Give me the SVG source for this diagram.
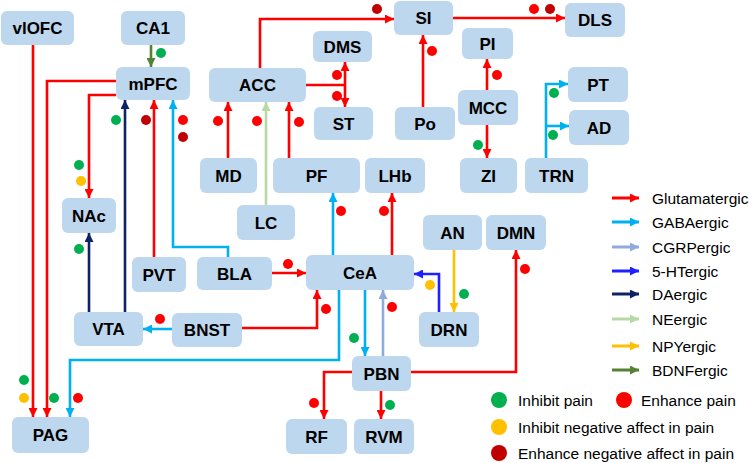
<svg xmlns="http://www.w3.org/2000/svg" width="749" height="463" viewBox="0 0 749 463">
<defs>
<marker id="aR" viewBox="0 0 10 10" refX="10" refY="5" markerWidth="10" markerHeight="9" markerUnits="userSpaceOnUse" orient="auto"><path d="M0,0L10,5L0,10z" fill="#ff0000"/></marker>
<marker id="aG" viewBox="0 0 10 10" refX="10" refY="5" markerWidth="10" markerHeight="9" markerUnits="userSpaceOnUse" orient="auto"><path d="M0,0L10,5L0,10z" fill="#00b0f0"/></marker>
<marker id="aC" viewBox="0 0 10 10" refX="10" refY="5" markerWidth="10" markerHeight="9" markerUnits="userSpaceOnUse" orient="auto"><path d="M0,0L10,5L0,10z" fill="#8faadc"/></marker>
<marker id="aH" viewBox="0 0 10 10" refX="10" refY="5" markerWidth="10" markerHeight="9" markerUnits="userSpaceOnUse" orient="auto"><path d="M0,0L10,5L0,10z" fill="#1f1fff"/></marker>
<marker id="aD" viewBox="0 0 10 10" refX="10" refY="5" markerWidth="10" markerHeight="9" markerUnits="userSpaceOnUse" orient="auto"><path d="M0,0L10,5L0,10z" fill="#0d2366"/></marker>
<marker id="aN" viewBox="0 0 10 10" refX="10" refY="5" markerWidth="10" markerHeight="9" markerUnits="userSpaceOnUse" orient="auto"><path d="M0,0L10,5L0,10z" fill="#b7d9a3"/></marker>
<marker id="aY" viewBox="0 0 10 10" refX="10" refY="5" markerWidth="10" markerHeight="9" markerUnits="userSpaceOnUse" orient="auto"><path d="M0,0L10,5L0,10z" fill="#ffc000"/></marker>
<marker id="aB" viewBox="0 0 10 10" refX="10" refY="5" markerWidth="10" markerHeight="9" markerUnits="userSpaceOnUse" orient="auto"><path d="M0,0L10,5L0,10z" fill="#548235"/></marker>
</defs>
<style>
.n rect{fill:#bdd7ee;}
.n text{font-family:"Liberation Sans",Arial,sans-serif;font-weight:bold;font-size:17px;fill:#000;text-anchor:middle;}
.c path{fill:none;stroke-width:2.6;}
.r{stroke:#ff0000;}
.g{stroke:#00b0f0;}
.cg{stroke:#8faadc;}
.h{stroke:#1f1fff;}
.d{stroke:#0d2366;}
.ne{stroke:#b7d9a3;}
.y{stroke:#ffc000;}
.b{stroke:#548235;}
.dg{fill:#00b050;}
.dr{fill:#ff0000;}
.dy{fill:#ffc000;}
.dk{fill:#c00000;}
.lg{font-family:"Liberation Sans",Arial,sans-serif;font-size:15.5px;fill:#000;}
</style>
<rect width="749" height="463" fill="#ffffff"/>
<g id="connectors" class="c">
<path class="r" d="M33,45V417" marker-end="url(#aR)"/>
<path class="r" d="M116,81H47V417" marker-end="url(#aR)"/>
<path class="r" d="M116,95H89V198" marker-end="url(#aR)"/>
<path class="b" d="M151,45V67" marker-end="url(#aB)"/>
<path class="d" d="M125,312V100" marker-end="url(#aD)"/>
<path class="r" d="M154,257V100" marker-end="url(#aR)"/>
<path class="g" d="M228,257V247H173V100" marker-end="url(#aG)"/>
<path class="d" d="M89,312V233" marker-end="url(#aD)"/>
<path class="r" d="M228,158V102" marker-end="url(#aR)"/>
<path class="ne" d="M266,205V102" marker-end="url(#aN)"/>
<path class="r" d="M289,158V102" marker-end="url(#aR)"/>
<path class="r" d="M260,68V19H394" marker-end="url(#aR)"/>
<path class="r" d="M306,85H345"/>
<path class="r" d="M345,85V62" marker-end="url(#aR)"/>
<path class="r" d="M345,85V107" marker-end="url(#aR)"/>
<path class="r" d="M423,107V35" marker-end="url(#aR)"/>
<path class="r" d="M453,18H565" marker-end="url(#aR)"/>
<path class="r" d="M487,90V59" marker-end="url(#aR)"/>
<path class="r" d="M487,125V158" marker-end="url(#aR)"/>
<path class="g" d="M546,158V84H568" marker-end="url(#aG)"/>
<path class="g" d="M546,126H569" marker-end="url(#aG)"/>
<path class="g" d="M333,255V193" marker-end="url(#aG)"/>
<path class="r" d="M392,255V193" marker-end="url(#aR)"/>
<path class="r" d="M272,273H306" marker-end="url(#aR)"/>
<path class="r" d="M242,328H317V290" marker-end="url(#aR)"/>
<path class="g" d="M172,329H143" marker-end="url(#aG)"/>
<path class="g" d="M339,290V360H70V417" marker-end="url(#aG)"/>
<path class="g" d="M365,290V356" marker-end="url(#aG)"/>
<path class="cg" d="M383,356V290" marker-end="url(#aC)"/>
<path class="h" d="M439,312V274H414" marker-end="url(#aH)"/>
<path class="y" d="M454,250V312" marker-end="url(#aY)"/>
<path class="r" d="M411,372H516V250" marker-end="url(#aR)"/>
<path class="r" d="M352,372H324V419" marker-end="url(#aR)"/>
<path class="r" d="M381,391V419" marker-end="url(#aR)"/>
</g>
<g id="dots">
<circle class="dg" cx="161" cy="53" r="5"/>
<circle class="dg" cx="116" cy="120" r="5"/>
<circle class="dk" cx="146" cy="120" r="5"/>
<circle class="dr" cx="183" cy="120" r="5"/>
<circle class="dk" cx="183" cy="137" r="5"/>
<circle class="dg" cx="79" cy="165" r="5"/>
<circle class="dy" cx="81" cy="181" r="5"/>
<circle class="dg" cx="79" cy="249" r="5"/>
<circle class="dr" cx="218" cy="121" r="5"/>
<circle class="dr" cx="257" cy="121" r="5"/>
<circle class="dr" cx="299" cy="122" r="5"/>
<circle class="dk" cx="377" cy="9" r="5"/>
<circle class="dr" cx="337" cy="75" r="5"/>
<circle class="dr" cx="337" cy="96" r="5"/>
<circle class="dr" cx="432" cy="51" r="5"/>
<circle class="dr" cx="534" cy="9" r="5"/>
<circle class="dk" cx="550" cy="9" r="5"/>
<circle class="dr" cx="497" cy="75" r="5"/>
<circle class="dg" cx="478" cy="145" r="5"/>
<circle class="dg" cx="554" cy="93" r="5"/>
<circle class="dg" cx="553" cy="135" r="5"/>
<circle class="dr" cx="341" cy="211" r="5"/>
<circle class="dr" cx="384" cy="211" r="5"/>
<circle class="dr" cx="288" cy="264" r="5"/>
<circle class="dr" cx="326" cy="309" r="5"/>
<circle class="dr" cx="160" cy="319" r="5"/>
<circle class="dg" cx="354" cy="338" r="5"/>
<circle class="dr" cx="392" cy="307" r="5"/>
<circle class="dy" cx="430" cy="285" r="5"/>
<circle class="dg" cx="464" cy="294" r="5"/>
<circle class="dr" cx="525" cy="269" r="5"/>
<circle class="dr" cx="314" cy="403" r="5"/>
<circle class="dg" cx="390" cy="405" r="5"/>
<circle class="dg" cx="24" cy="380" r="5"/>
<circle class="dy" cx="24" cy="398" r="5"/>
<circle class="dg" cx="54" cy="398" r="5"/>
<circle class="dr" cx="78" cy="398" r="5"/>
</g>
<g id="vlOFC" class="n"><rect x="1" y="11" width="73" height="34" rx="6"/><text x="37.5" y="34">vlOFC</text></g>
<g id="CA1" class="n"><rect x="121" y="11" width="64" height="34" rx="6"/><text x="153" y="34">CA1</text></g>
<g id="mPFC" class="n"><rect x="116" y="67" width="74" height="33" rx="6"/><text x="153" y="89.5">mPFC</text></g>
<g id="ACC" class="n"><rect x="209" y="68" width="97" height="34" rx="6"/><text x="257.5" y="91">ACC</text></g>
<g id="DMS" class="n"><rect x="313" y="31" width="59" height="31" rx="6"/><text x="342.5" y="52.5">DMS</text></g>
<g id="ST" class="n"><rect x="314" y="107" width="59" height="33" rx="6"/><text x="343.5" y="129.5">ST</text></g>
<g id="SI" class="n"><rect x="394" y="1" width="59" height="34" rx="6"/><text x="423.5" y="24">SI</text></g>
<g id="Po" class="n"><rect x="395" y="107" width="60" height="33" rx="6"/><text x="425" y="129.5">Po</text></g>
<g id="DLS" class="n"><rect x="565" y="3" width="60" height="34" rx="6"/><text x="595" y="26">DLS</text></g>
<g id="PI" class="n"><rect x="462" y="28" width="51" height="31" rx="6"/><text x="487.5" y="49.5">PI</text></g>
<g id="MCC" class="n"><rect x="458" y="90" width="60" height="35" rx="6"/><text x="488" y="113.5">MCC</text></g>
<g id="PT" class="n"><rect x="568" y="67" width="60" height="35" rx="6"/><text x="598" y="90.5">PT</text></g>
<g id="AD" class="n"><rect x="569" y="110" width="60" height="35" rx="6"/><text x="599" y="133.5">AD</text></g>
<g id="ZI" class="n"><rect x="460" y="158" width="57" height="35" rx="6"/><text x="488.5" y="181.5">ZI</text></g>
<g id="TRN" class="n"><rect x="525" y="158" width="63" height="35" rx="6"/><text x="556.5" y="181.5">TRN</text></g>
<g id="AN" class="n"><rect x="423" y="215" width="59" height="35" rx="6"/><text x="452.5" y="238.5">AN</text></g>
<g id="DMN" class="n"><rect x="486" y="215" width="60" height="35" rx="6"/><text x="516" y="238.5">DMN</text></g>
<g id="MD" class="n"><rect x="200" y="158" width="57" height="35" rx="6"/><text x="228.5" y="181.5">MD</text></g>
<g id="PF" class="n"><rect x="273" y="158" width="87" height="35" rx="6"/><text x="316.5" y="181.5">PF</text></g>
<g id="LHb" class="n"><rect x="365" y="158" width="60" height="35" rx="6"/><text x="395" y="181.5">LHb</text></g>
<g id="LC" class="n"><rect x="237" y="205" width="58" height="35" rx="6"/><text x="266" y="228.5">LC</text></g>
<g id="NAc" class="n"><rect x="62" y="198" width="54" height="35" rx="6"/><text x="89" y="221.5">NAc</text></g>
<g id="PVT" class="n"><rect x="132" y="257" width="54" height="35" rx="6"/><text x="159" y="280.5">PVT</text></g>
<g id="BLA" class="n"><rect x="197" y="257" width="75" height="33" rx="6"/><text x="234.5" y="279.5">BLA</text></g>
<g id="CeA" class="n"><rect x="306" y="255" width="108" height="35" rx="6"/><text x="360" y="278.5">CeA</text></g>
<g id="VTA" class="n"><rect x="74" y="312" width="69" height="34" rx="6"/><text x="108.5" y="335">VTA</text></g>
<g id="BNST" class="n"><rect x="172" y="313" width="70" height="34" rx="6"/><text x="207" y="336">BNST</text></g>
<g id="DRN" class="n"><rect x="419" y="312" width="60" height="35" rx="6"/><text x="449" y="335.5">DRN</text></g>
<g id="PBN" class="n"><rect x="352" y="356" width="59" height="35" rx="6"/><text x="381.5" y="379.5">PBN</text></g>
<g id="RF" class="n"><rect x="286" y="419" width="61" height="35" rx="6"/><text x="316.5" y="442.5">RF</text></g>
<g id="RVM" class="n"><rect x="354" y="419" width="60" height="35" rx="6"/><text x="384" y="442.5">RVM</text></g>
<g id="PAG" class="n"><rect x="12" y="417" width="77" height="36" rx="6"/><text x="50.5" y="441">PAG</text></g>
<g id="legend">
<path class="r" d="M612,198H639" stroke-width="3" fill="none" marker-end="url(#aR)"/>
<path class="g" d="M612,222H639" stroke-width="3" fill="none" marker-end="url(#aG)"/>
<path class="cg" d="M612,247H639" stroke-width="3" fill="none" marker-end="url(#aC)"/>
<path class="h" d="M612,271H639" stroke-width="3" fill="none" marker-end="url(#aH)"/>
<path class="d" d="M612,294H639" stroke-width="3" fill="none" marker-end="url(#aD)"/>
<path class="ne" d="M612,319H639" stroke-width="3" fill="none" marker-end="url(#aN)"/>
<path class="y" d="M612,346H639" stroke-width="3" fill="none" marker-end="url(#aY)"/>
<path class="b" d="M612,370H639" stroke-width="3" fill="none" marker-end="url(#aB)"/>
<text class="lg" x="652" y="203.5">Glutamatergic</text>
<text class="lg" x="652" y="227.5">GABAergic</text>
<text class="lg" x="652" y="252.5">CGRPergic</text>
<text class="lg" x="652" y="276.5">5-HTergic</text>
<text class="lg" x="652" y="299.5">DAergic</text>
<text class="lg" x="652" y="324.5">NEergic</text>
<text class="lg" x="652" y="351.5">NPYergic</text>
<text class="lg" x="652" y="375.5">BDNFergic</text>
<circle class="dg" cx="499" cy="400" r="8"/>
<text class="lg" x="518" y="405.5">Inhibit pain</text>
<circle class="dr" cx="624" cy="400" r="8"/>
<text class="lg" x="641" y="405.5">Enhance pain</text>
<circle class="dy" cx="499" cy="427" r="8"/>
<text class="lg" x="518" y="432.5">Inhibit negative affect in pain</text>
<circle class="dk" cx="499" cy="453" r="8"/>
<text class="lg" x="518" y="458.5">Enhance negative affect in pain</text>
</g>
</svg>
